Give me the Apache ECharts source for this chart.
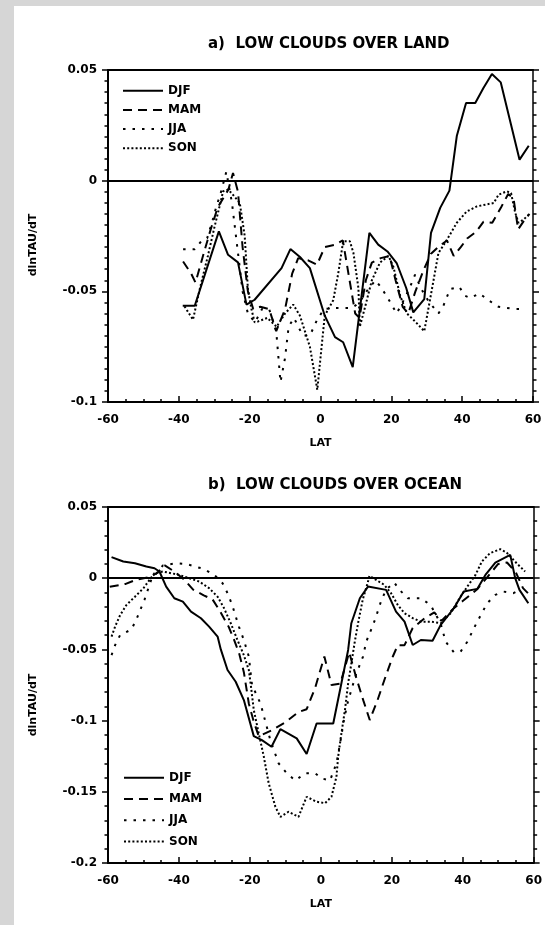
<!DOCTYPE html>
<html><head><meta charset="utf-8">
<script src="https://cdn.jsdelivr.net/npm/echarts@6/dist/echarts.min.js"></script>
<style>
html,body{margin:0;padding:0;background:#d6d6d6;}
#paper{position:absolute;left:14px;top:6px;width:531px;height:919px;background:#fff;}
#main{position:absolute;left:0;top:0;width:545px;height:925px;}
</style></head><body><div id="paper"></div><div id="main"></div>
<script>
const seasons = ['DJF', 'MAM', 'JJA', 'SON'];
const titles = ['a)  LOW CLOUDS OVER LAND', 'b)  LOW CLOUDS OVER OCEAN'];
const xName = 'LAT';
const yName = 'dlnTAU/dT';
const xTicks = [-60, -40, -20, 0, 20, 40, 60];
const yTicksLand = [-0.1, -0.05, 0, 0.05];
const yTicksOcean = [-0.2, -0.15, -0.1, -0.05, 0, 0.05];

const landDJF = [[-38.9,-0.0565],[-35.5,-0.0565],[-28.7,-0.0229],[-26.1,-0.0335],[-23.3,-0.0369],[-20.9,-0.056],[-18.6,-0.0538],[-11.0,-0.0395],[-8.5,-0.0309],[-5.8,-0.0345],[-3.0,-0.0395],[1.2,-0.061],[4.1,-0.0707],[6.4,-0.073],[9.1,-0.0842],[13.8,-0.0236],[16.3,-0.0289],[18.9,-0.032],[21.5,-0.0372],[24.2,-0.0485],[26.2,-0.0595],[29.3,-0.0535],[31.2,-0.0236],[33.8,-0.0123],[36.4,-0.0045],[38.5,0.0203],[41.1,0.0351],[43.7,0.0351],[46.0,0.0419],[48.4,0.0482],[50.9,0.0444],[53.8,0.0253],[56.2,0.0095],[58.8,0.0158]];
const landMAM = [[-38.8,-0.0365],[-36.5,-0.042],[-35.3,-0.046],[-33,-0.033],[-31,-0.022],[-29,-0.012],[-27.5,-0.008],[-26,-0.004],[-24.7,0.0035],[-23.3,-0.005],[-22,-0.03],[-20.5,-0.05],[-19,-0.058],[-17,-0.057],[-14.5,-0.058],[-12.5,-0.068],[-10,-0.058],[-8,-0.042],[-6.3,-0.035],[-3.5,-0.036],[-1,-0.038],[1.2,-0.03],[4.1,-0.029],[6.3,-0.027],[8,-0.043],[9.8,-0.06],[11,-0.062],[12.8,-0.045],[14.5,-0.037],[17,-0.035],[19.5,-0.034],[21.2,-0.045],[23.2,-0.057],[24.8,-0.06],[26.8,-0.05],[29.2,-0.04],[31.2,-0.033],[33.2,-0.03],[35.7,-0.027],[37.6,-0.034],[39.6,-0.03],[41.5,-0.026],[44,-0.023],[46,-0.0186],[48.5,-0.019],[51,-0.012],[53,-0.006],[54.5,-0.008],[55.8,-0.022],[57.5,-0.018],[59,-0.015]];
const landJJA = [[-38.8,-0.031],[-35.5,-0.031],[-33.5,-0.027],[-32,-0.026],[-30.4,-0.0176],[-29.3,-0.011],[-28.4,-0.007],[-26.6,0.004],[-25,-0.01],[-23.5,-0.03],[-22,-0.05],[-20.5,-0.06],[-18.5,-0.064],[-16.5,-0.058],[-14.5,-0.058],[-12.5,-0.068],[-11.3,-0.091],[-10,-0.08],[-9,-0.066],[-7.5,-0.062],[-5,-0.07],[-3,-0.07],[-1,-0.063],[1,-0.058],[4,-0.0575],[6.5,-0.0575],[9,-0.0575],[11,-0.055],[13,-0.05],[15.5,-0.045],[17,-0.048],[19,-0.053],[21.5,-0.06],[23.5,-0.054],[25.3,-0.048],[26.7,-0.0425],[28.5,-0.049],[30.5,-0.0545],[33.3,-0.06],[34.7,-0.0565],[36.6,-0.049],[39.2,-0.048],[40.8,-0.052],[42.3,-0.053],[44.9,-0.051],[47.4,-0.054],[50.3,-0.057],[52.6,-0.0575],[55,-0.058],[58,-0.058]];
const landSON = [[-38.4,-0.0568],[-36,-0.0628],[-34.1,-0.049],[-31.8,-0.034],[-29.9,-0.0207],[-28.5,-0.0116],[-27.5,-0.0048],[-26.1,-0.004],[-25.2,-0.0055],[-22.8,-0.01],[-21.4,-0.025],[-20.5,-0.049],[-19.5,-0.058],[-18.6,-0.064],[-17.6,-0.0636],[-15,-0.062],[-12.4,-0.066],[-10,-0.06],[-7.7,-0.056],[-5.8,-0.061],[-3,-0.075],[-0.9,-0.0945],[0,-0.08],[1.2,-0.061],[3.6,-0.054],[5,-0.042],[6.4,-0.0274],[8.3,-0.0274],[9.3,-0.0327],[10.7,-0.0485],[11.1,-0.066],[12.6,-0.057],[14.5,-0.045],[16.8,-0.037],[19.2,-0.034],[20.6,-0.039],[22.5,-0.052],[24.4,-0.06],[26.7,-0.0636],[29.3,-0.068],[30.9,-0.054],[33.3,-0.0327],[35.7,-0.0267],[38.5,-0.019],[41.3,-0.0139],[44.2,-0.0116],[48.9,-0.0101],[50.3,-0.0063],[52.6,-0.0048],[53.8,-0.0056],[55,-0.0146],[55.9,-0.019],[57.3,-0.0176],[58.8,-0.0154]];

const oceanDJF = [[-59,0.0148],[-55.7,0.0117],[-52.4,0.0105],[-49.2,0.0082],[-46.9,0.007],[-45.5,0.0047],[-43.6,-0.0059],[-41.3,-0.0141],[-38.9,-0.0165],[-36.6,-0.0235],[-33.8,-0.0281],[-31.5,-0.034],[-29.1,-0.041],[-28.2,-0.05],[-26.3,-0.0645],[-24,-0.0727],[-21.7,-0.0856],[-18.9,-0.1109],[-16.6,-0.1137],[-13.9,-0.1184],[-11.4,-0.106],[-6.8,-0.1125],[-4,-0.1235],[-1.2,-0.102],[3.5,-0.102],[5.8,-0.0738],[7.7,-0.0504],[8.6,-0.0316],[11,-0.0141],[13.3,-0.0059],[18.4,-0.0082],[21.2,-0.0235],[23.6,-0.0305],[25.9,-0.0469],[28.2,-0.0434],[31.5,-0.0439],[33.8,-0.0328],[37.5,-0.0211],[40.3,-0.0094],[44.1,-0.0075],[46.4,0.0023],[49.2,0.011],[53.4,0.0164],[54.8,0],[56,-0.0082],[58.5,-0.0176]];
const oceanMAM = [[-59.5,-0.006],[-55,-0.004],[-52,-0.001],[-48,0.001],[-46,0.004],[-44,0.009],[-41.5,0.005],[-38.5,-0.001],[-36,-0.008],[-33,-0.012],[-30.5,-0.015],[-28.7,-0.022],[-26,-0.034],[-24.5,-0.043],[-23,-0.053],[-21.7,-0.066],[-20.3,-0.088],[-19,-0.1],[-17.5,-0.111],[-14,-0.107],[-9.9,-0.101],[-6.3,-0.094],[-4,-0.092],[-1.6,-0.077],[1,-0.055],[3,-0.075],[5.5,-0.074],[8,-0.052],[10,-0.07],[12,-0.086],[13.8,-0.0996],[16,-0.0855],[18.4,-0.068],[20.3,-0.055],[21.7,-0.047],[23.6,-0.047],[25.9,-0.035],[29.3,-0.028],[32,-0.024],[34,-0.03],[37.5,-0.021],[40,-0.016],[44,-0.008],[47,0.001],[50,0.01],[52.5,0.011],[55,0.004],[57,-0.007],[59,-0.012]];
const oceanJJA = [[-59,-0.054],[-58,-0.047],[-56.6,-0.04],[-53.4,-0.036],[-52,-0.029],[-49.7,-0.015],[-47.8,-0.001],[-44.5,0.009],[-40.8,0.0105],[-38,0.01],[-35.2,0.008],[-33,0.0065],[-30,0.0023],[-27.7,-0.0035],[-26.3,-0.0105],[-25,-0.0188],[-23.1,-0.034],[-21.7,-0.0434],[-20.3,-0.055],[-19.4,-0.075],[-17,-0.088],[-15.6,-0.101],[-14.2,-0.114],[-11.9,-0.13],[-9.6,-0.137],[-7.2,-0.142],[-4.4,-0.137],[-1.6,-0.137],[0.2,-0.1406],[2.6,-0.142],[4.4,-0.13],[5.5,-0.115],[6.5,-0.1],[7.5,-0.088],[8.6,-0.0785],[10,-0.067],[11.9,-0.055],[12.8,-0.0446],[14.2,-0.036],[15.3,-0.029],[17,-0.016],[18.4,-0.008],[20.7,-0.003],[22.1,-0.008],[24.5,-0.014],[28.2,-0.014],[31,-0.019],[33.8,-0.032],[35.2,-0.0446],[37.5,-0.052],[39.4,-0.0516],[41.3,-0.0446],[42.7,-0.0375],[44.1,-0.0305],[46.9,-0.0176],[49.2,-0.0117],[51.5,-0.0094],[54.3,-0.0105],[56.6,-0.0077]];
const oceanSON = [[-59,-0.041],[-58,-0.034],[-56.6,-0.026],[-54.8,-0.0188],[-52.4,-0.013],[-50,-0.007],[-48.3,-0.0012],[-46.9,0.0035],[-44.5,0.0047],[-42.2,0.0035],[-39.9,0.0023],[-37.1,0],[-34.3,-0.0023],[-31.5,-0.007],[-29.1,-0.013],[-27.3,-0.021],[-25.4,-0.0316],[-23.5,-0.0434],[-21.7,-0.054],[-20.3,-0.0645],[-19.8,-0.0738],[-18.9,-0.0926],[-17.5,-0.109],[-16.1,-0.125],[-14.7,-0.144],[-12.8,-0.1606],[-11.4,-0.1676],[-9.1,-0.164],[-6.3,-0.1676],[-4,-0.1535],[-1.2,-0.157],[1.2,-0.158],[3,-0.1535],[4.4,-0.1395],[4.9,-0.125],[5.8,-0.109],[6.8,-0.0926],[7.7,-0.0738],[8.6,-0.06],[9.5,-0.0457],[10.5,-0.0316],[11.8,-0.0152],[13.3,-0.0024],[13.7,0.0016],[15.6,-0.0012],[17.9,-0.0047],[19.8,-0.0105],[21.7,-0.0188],[23.6,-0.0246],[25.9,-0.028],[28.2,-0.0305],[31,-0.0305],[33.8,-0.0316],[36.6,-0.0246],[39.4,-0.0129],[41.3,-0.0059],[43.6,0.0023],[45.4,0.0117],[47.7,0.0176],[50.6,0.0204],[52.4,0.018],[55.2,0.0105],[57.6,0.0047]];

const FONT = 'DejaVu Sans';
const INK = '#000';
const dashStyles = ['solid', [9, 6], [2.5, 7], [2, 2.2]];
const panels = [
  { grid: { left: 108, top: 70, width: 425, height: 332 }, ymin: -0.1, ymax: 0.05, ysplit: 10,
    data: [landDJF, landMAM, landJJA, landSON], legend: { left: 122, top: 84.7, gap: 7.2 }, titleY: 45.5, yNameY: 245 },
  { grid: { left: 108, top: 507, width: 428, height: 356 }, ymin: -0.2, ymax: 0.05, ysplit: 5,
    data: [oceanDJF, oceanMAM, oceanJJA, oceanSON], legend: { left: 123, top: 771.7, gap: 9.3 }, titleY: 487, yNameY: 705 }
];

const labelStyle = { color: INK, fontFamily: FONT, fontWeight: 'bold', fontSize: 12 };
const fmtY = v => (Math.abs(v) < 1e-9 ? '0' : String(+v.toFixed(2)));

const option = { animation: false, grid: [], xAxis: [], yAxis: [], series: [], legend: [], graphic: [] };

panels.forEach((p, gi) => {
  option.grid.push(Object.assign({ containLabel: false }, p.grid));
  option.xAxis.push({
    type: 'value', gridIndex: gi, min: -60, max: 60, interval: 20, position: 'bottom',
    name: xName, nameLocation: 'middle', nameGap: 36,
    nameTextStyle: Object.assign({}, labelStyle, { fontSize: 11 }),
    axisLine: { onZero: false, lineStyle: { color: INK, width: 2 } },
    axisTick: { inside: true, length: 6, lineStyle: { color: INK, width: 1.5 } },
    minorTick: { show: true, splitNumber: 4, length: 3, lineStyle: { color: INK, width: 1.5 } },
    axisLabel: Object.assign({ margin: 12, formatter: v => String(v) }, labelStyle),
    splitLine: { show: false }, minorSplitLine: { show: false }
  });
  option.xAxis.push({
    type: 'value', gridIndex: gi, min: -60, max: 60, interval: 20, position: 'top',
    axisLine: { onZero: false, lineStyle: { color: INK, width: 2 } },
    axisTick: { show: false }, axisLabel: { show: false }, splitLine: { show: false }
  });
  option.yAxis.push({
    type: 'value', gridIndex: gi, min: p.ymin, max: p.ymax, interval: 0.05, position: 'left',
    axisLine: { onZero: false, lineStyle: { color: INK, width: 2 } },
    axisTick: { inside: false, length: 6, lineStyle: { color: INK, width: 1.5 } },
    minorTick: { show: true, splitNumber: p.ysplit, length: 3.5, lineStyle: { color: INK, width: 1.5 } },
    axisLabel: Object.assign({ margin: 11, formatter: fmtY }, labelStyle),
    splitLine: { show: false }, minorSplitLine: { show: false }
  });
  option.yAxis.push({
    type: 'value', gridIndex: gi, min: p.ymin, max: p.ymax, interval: 0.05, position: 'right',
    axisLine: { onZero: false, lineStyle: { color: INK, width: 1.5 } },
    axisTick: { inside: false, length: 6, lineStyle: { color: INK, width: 1.5 } },
    minorTick: { show: true, splitNumber: p.ysplit, length: 3.5, lineStyle: { color: INK, width: 1.5 } },
    axisLabel: { show: false }, splitLine: { show: false }, minorSplitLine: { show: false }
  });
  p.data.forEach((d, si) => {
    const s = {
      name: seasons[si], type: 'line', xAxisIndex: gi * 2, yAxisIndex: gi * 2, data: d,
      showSymbol: false, symbol: 'none', silent: true, z: 3,
      lineStyle: { color: INK, width: 2, type: dashStyles[si], cap: 'butt' },
      itemStyle: { color: INK }
    };
    if (si === 0) {
      s.markLine = { silent: true, symbol: ['none', 'none'], label: { show: false },
        lineStyle: { color: INK, width: 2, type: 'solid' }, data: [{ yAxis: 0 }] };
    }
    option.series.push(s);
  });
  option.legend.push({
    orient: 'vertical', left: p.legend.left, top: p.legend.top, padding: 0,
    itemWidth: 40, itemHeight: 12, itemGap: p.legend.gap, selectedMode: false,
    itemStyle: { opacity: 0, borderWidth: 0 },
    data: seasons, textStyle: labelStyle
  });
  option.graphic.push({
    type: 'text', left: 208, top: p.titleY - 9,
    style: { text: titles[gi], fill: INK, font: 'bold 15px "DejaVu Sans"' }
  });
  option.graphic.push({
    type: 'text', x: 33, y: p.yNameY, rotation: Math.PI / 2,
    style: { text: yName, fill: INK, font: 'bold 11px "DejaVu Sans"', align: 'center', verticalAlign: 'middle' }
  });
});

const chart = echarts.init(document.getElementById('main'), null, { renderer: 'canvas' });
chart.setOption(option);
</script>
</body></html>
